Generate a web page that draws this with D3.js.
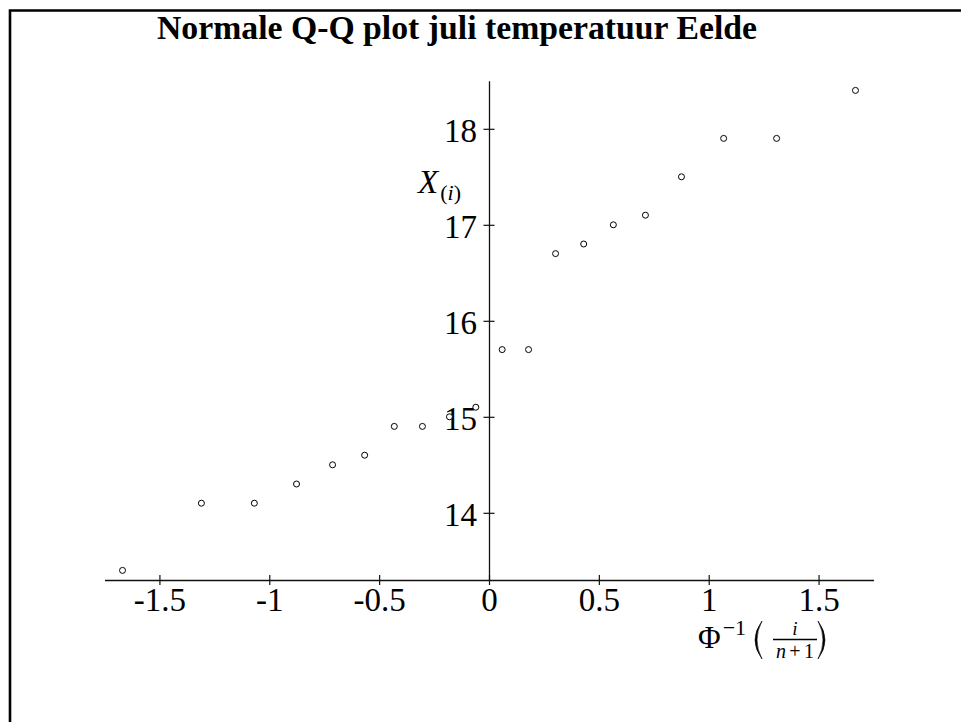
<!DOCTYPE html>
<html>
<head>
<meta charset="utf-8">
<script src="https://cdn.jsdelivr.net/npm/d3@7"></script>
<style>
  html, body { margin: 0; padding: 0; background: #fff; }
  svg { display: block; }
  text { font-family: "Liberation Serif", "Times New Roman", serif; fill: #000; }
</style>
</head>
<body>
<svg id="chart" width="961" height="722"></svg>
<script>
// ---- data ----
const quantiles = [-1.668, -1.309, -1.068, -0.876, -0.712, -0.566, -0.431, -0.303, -0.180, -0.060,
                   0.060, 0.180, 0.303, 0.431, 0.566, 0.712, 0.876, 1.068, 1.309, 1.668];
const temperatures = [13.4, 14.1, 14.1, 14.3, 14.5, 14.6, 14.9, 14.9, 15.0, 15.1,
                      15.7, 15.7, 16.7, 16.8, 17.0, 17.1, 17.5, 17.9, 17.9, 18.4];
const xTicks = [-1.5, -1, -0.5, 0, 0.5, 1, 1.5];
const yTicks = [14, 15, 16, 17, 18];
const xDomain = [-1.75, 1.75];
const yDomain = [13.3, 18.5];
const title = "Normale Q-Q plot juli temperatuur Eelde";

const svg = d3.select("#chart");

// frame (top and left edges visible)
svg.append("path")
  .attr("d", "M10,1000 L10,10.5 L1000,10.5")
  .attr("fill", "none").attr("stroke", "#000").attr("stroke-width", 2.6);

// title
svg.append("text")
  .attr("x", 457).attr("y", 39)
  .attr("text-anchor", "middle")
  .attr("font-weight", "bold")
  .attr("font-size", 33)
  .attr("textLength", 600)
  .attr("lengthAdjust", "spacingAndGlyphs")
  .text(title);

const x = d3.scaleLinear().domain(xDomain).range([104.5, 873.5]);
const y = d3.scaleLinear().domain(yDomain).range([580, 580 - 5.2 * 96]);

// x axis
const xAxis = svg.append("g")
  .attr("transform", `translate(0,${y(yDomain[0])})`)
  .call(d3.axisBottom(x).tickValues(xTicks).tickSizeOuter(0).tickSizeInner(0)
        .tickPadding(0).tickFormat(d => String(d)));
xAxis.select(".domain").attr("stroke", "#111").attr("stroke-width", 1.3);
xAxis.selectAll(".tick line").attr("y1", -5).attr("y2", 5).attr("stroke", "#111").attr("stroke-width", 1.2);
xAxis.selectAll(".tick text")
  .attr("y", 31).attr("dy", null)
  .attr("font-family", "Liberation Serif")
  .attr("font-size", 33);

// y axis
const yAxis = svg.append("g")
  .attr("transform", `translate(${x(0)},0)`)
  .call(d3.axisLeft(y).tickValues(yTicks).tickSizeOuter(0).tickSizeInner(0)
        .tickPadding(0).tickFormat(d => String(d)));
yAxis.select(".domain").attr("stroke", "#111").attr("stroke-width", 1.3);
yAxis.selectAll(".tick line").attr("x1", -5.5).attr("x2", 5.5).attr("stroke", "#111").attr("stroke-width", 1.2);
yAxis.selectAll(".tick text")
  .attr("x", -12).attr("dy", "0.38em")
  .attr("font-family", "Liberation Serif")
  .attr("font-size", 33);

// points
svg.append("g").selectAll("circle")
  .data(quantiles.map((q, i) => [q, temperatures[i]]))
  .join("circle")
  .attr("cx", d => x(d[0]))
  .attr("cy", d => y(d[1]))
  .attr("r", 3)
  .attr("fill", "#fff")
  .attr("stroke", "#000")
  .attr("stroke-width", 1);

// y label X_(i)
const yl = svg.append("text").attr("x", 418).attr("y", 193).attr("font-size", 33);
yl.append("tspan").attr("font-style", "italic").text("X");
yl.append("tspan").attr("font-size", 22).attr("dy", 7).attr("dx", 2).text("(");
yl.append("tspan").attr("font-size", 22).attr("font-style", "italic").text("i");
yl.append("tspan").attr("font-size", 22).text(")");

// x label Φ^{-1}(i/(n+1))
const xl = svg.append("g");
const xt = xl.append("text").attr("x", 698).attr("y", 648).attr("font-size", 31);
xt.append("tspan").text("Φ");
xt.append("tspan").attr("font-size", 22).attr("dy", -13).attr("dx", 2).text("−1");
// parentheses drawn as thin crescents
xl.append("path")
  .attr("d", "M762,621 Q748,640 762,659 Q752,640 762,621 Z")
  .attr("fill", "#000").attr("stroke", "#000").attr("stroke-width", 0.6);
xl.append("path")
  .attr("d", "M818,621 Q832,640 818,659 Q828,640 818,621 Z")
  .attr("fill", "#000").attr("stroke", "#000").attr("stroke-width", 0.6);
xl.append("text").attr("x", 795).attr("y", 634.5).attr("text-anchor", "middle")
  .attr("font-size", 19).attr("font-style", "italic").text("i");
xl.append("line").attr("x1", 773).attr("x2", 817).attr("y1", 639.5).attr("y2", 639.5)
  .attr("stroke", "#000").attr("stroke-width", 1.3);
const den = xl.append("text").attr("x", 795).attr("y", 658).attr("text-anchor", "middle")
  .attr("font-size", 20).attr("textLength", 38).attr("lengthAdjust", "spacing");
den.append("tspan").attr("font-style", "italic").text("n");
den.append("tspan").text("+1");
</script>
</body>
</html>
